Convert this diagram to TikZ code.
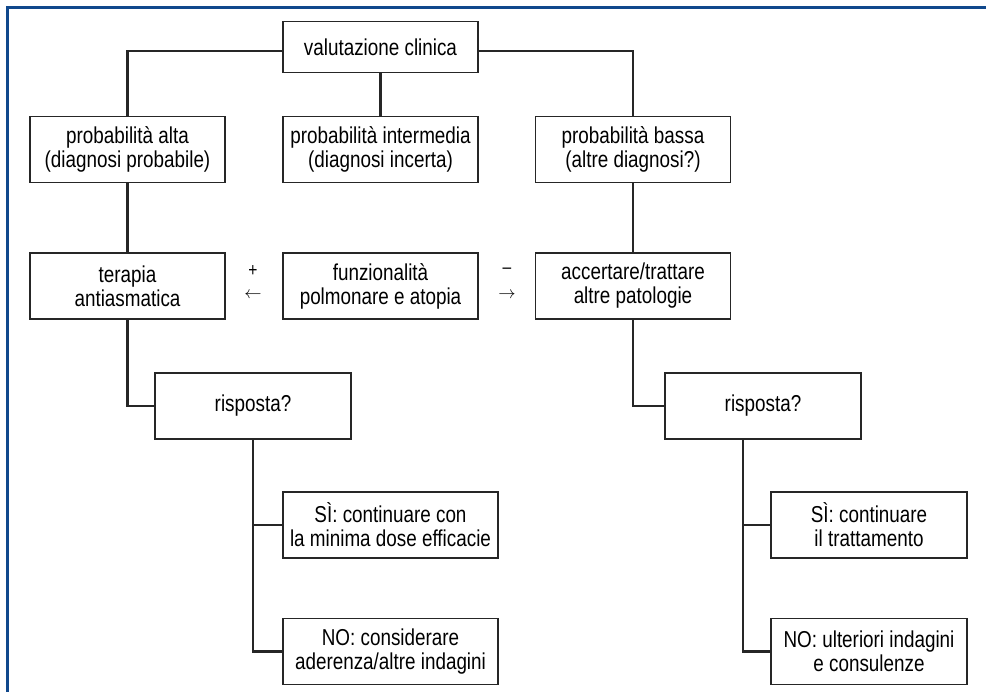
\documentclass[tikz,border=0pt]{standalone}
\usepackage{fontspec}
\setmainfont{Liberation Sans}[FakeStretch=0.82]
\usepackage{tikz}
\usetikzlibrary{calc,positioning}
\definecolor{frameblue}{RGB}{16,72,140}
\tikzset{
  wire/.style={line width=2.5pt, draw=black!85},
  box/.style={draw=black!85, line width=1.6pt, fill=white, align=center,
    minimum width=195pt, minimum height=66pt, inner sep=2pt},
  widebox/.style={box, minimum width=215pt},
  sign/.style={inner sep=0pt, font=\fontsize{19}{19}\selectfont},
  arr/.style={inner sep=0pt, font=\fontsize{16}{16}\selectfont}
}
\begin{document}
\begin{tikzpicture}[x=1pt,y=1pt,font=\fontsize{23}{24}\selectfont]
  \useasboundingbox (0,0) rectangle (986,-692);
  % blue frame on top and left
  \draw[frameblue, line width=3pt] (7,-692) -- (7,-8) -- (986,-8);
  % levels 1-3
  \node[box, minimum height=51pt] (vc) at (380.5,-47) {valutazione clinica};
  \node[box] (pa) at (127.5,-149.5) {probabilità alta\\(diagnosi probabile)};
  \node[box] (pi) at (380.5,-149.5) {probabilità intermedia\\(diagnosi incerta)};
  \node[box] (pb) at (633,-149.5) {probabilità bassa\\(altre diagnosi?)};
  \node[box] (ta) at (127.5,-286) {terapia\\antiasmatica};
  \node[box] (fp) at (380.5,-286) {funzionalità\\polmonare e atopia};
  \node[box] (ap) at (633,-286) {accertare/trattare\\altre patologie};
  \node[sign] (plus) at (253,-271) {+};
  \node[arr] (larr) at (253,-295) {$\leftarrow$};
  \node[sign] (minus) at (507,-271) {–};
  \node[arr] (rarr) at (507,-295) {$\rightarrow$};
  % responses
  \node[box, minimum width=196pt] (ra) at (253,-406) {risposta?};
  \node[box, minimum width=196pt] (rb) at (763,-406) {risposta?};
  \node[widebox] (sa) at (390.5,-525) {SÌ: continuare con\\la minima dose efficacie};
  \node[widebox] (na) at (390.5,-651.5) {NO: considerare\\aderenza/altre indagini};
  \node[box, minimum width=196pt] (sb) at (869,-525) {SÌ: continuare\\il trattamento};
  \node[box, minimum width=196pt] (nb) at (869,-651.5) {NO: ulteriori indagini\\e consulenze};
  % connectors
  \draw[wire] ([yshift=-4pt]vc.west) -| (pa.north);
  \draw[wire] ([yshift=-4pt]vc.east) -| (pb.north);
  \draw[wire] (vc.south) -- (pi.north);
  \draw[wire] (pa.south) -- (ta.north);
  \draw[wire] (pb.south) -- (ap.north);
  \draw[wire] (ta.south) |- (ra.west);
  \draw[wire] (ap.south) |- (rb.west);
  \draw[wire] (ra.south) |- (sa.west);
  \draw[wire] (ra.south) |- (na.west);
  \coordinate (rbs) at ([xshift=-20pt]rb.south);
  \draw[wire] (rbs) |- (sb.west);
  \draw[wire] (rbs) |- (nb.west);
\end{tikzpicture}
\end{document}
